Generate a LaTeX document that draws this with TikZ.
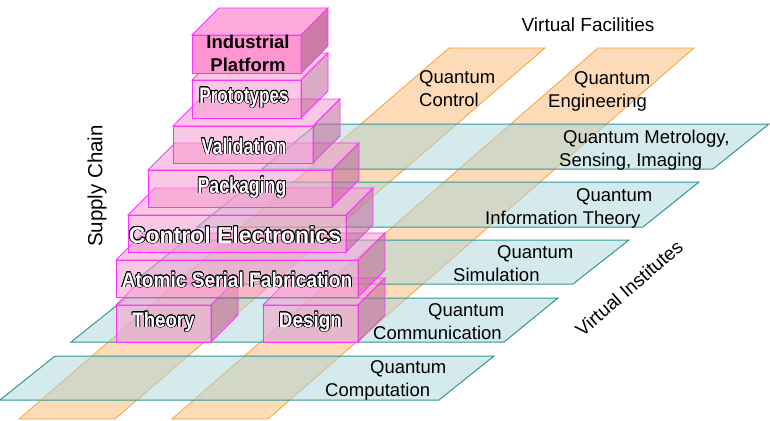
\documentclass[tikz,border=0pt]{standalone}
\usepackage{fontspec}
\setmainfont{Liberation Sans}
\usepackage{graphicx}
\usepackage{contour}
\contourlength{0.85pt}

\definecolor{bandorange}{RGB}{253,218,184}
\definecolor{edgeorange}{RGB}{247,163,60}
\definecolor{bandteal}{RGB}{171,213,217}
\definecolor{edgeteal}{RGB}{49,151,149}
\definecolor{boxfill}{RGB}{245,155,208}
\definecolor{boxdark}{RGB}{190,100,150}
\definecolor{boxedge}{RGB}{255,51,255}
\definecolor{topfront}{RGB}{255,150,210}
\definecolor{toptop}{RGB}{255,170,220}
\definecolor{topside}{RGB}{204,122,166}

\begin{document}
\begin{tikzpicture}[x=1pt,y=-1pt]

    \tikzset{orangeband/.style = {fill=bandorange,draw=edgeorange,line width=0.8pt}}
    \tikzset{tealband/.style = {fill=bandteal,fill opacity=0.5,draw=edgeteal,line width=1pt}}
    \tikzset{boxfront/.style = {fill=boxfill,fill opacity=0.55,draw=boxedge,line width=0.9pt}}
    \tikzset{boxside/.style = {fill=boxdark,fill opacity=0.55,draw=boxedge,line width=0.9pt}}
    \tikzset{lbl/.style = {font=\fontsize{18.5}{23}\selectfont,inner sep=0pt,align=left,anchor=north west}}
    \tikzset{boxlbl/.style = {inner sep=0pt,anchor=base,text=white}}

    \useasboundingbox (0,0) rectangle (770,420);

    % virtual facilities
    \draw[orangeband] (19,419) -- (115,419) -- (545,48) -- (449,48) -- cycle;
    \draw[orangeband] (172,419) -- (268,419) -- (694,48) -- (598,48) -- cycle;

    % virtual institutes
    \draw[tealband] (0,400) -- (439,400) -- (494,356) -- (55,356) -- cycle;
    \draw[tealband] (71,342) -- (504,342) -- (558,298) -- (126,298) -- cycle;
    \draw[tealband] (131,284) -- (573,284) -- (629,240) -- (186,240) -- cycle;
    \draw[tealband] (197,227) -- (643,227) -- (699,182) -- (253,182) -- cycle;
    \draw[tealband] (262,169) -- (713,169) -- (769,124) -- (317,124) -- cycle;

    % supply chain boxes
    \foreach \xa/\xb/\ya/\yb in {116/211/305/342, 263/358/305/342, 116/358/260/297,
                                  128/346/215/252, 148/332/170/207, 173/313/126/163,
                                  192/301/80/118}{
        \draw[boxfront] (\xa,\ya) rectangle (\xb,\yb);
        \draw[boxfront] (\xa,\ya) -- ++(27,-27) -- (\xb+27,\ya-27) -- (\xb,\ya) -- cycle;
        \draw[boxside] (\xb,\ya) -- ++(27,-27) -- ++(0,\yb-\ya) -- (\xb,\yb) -- cycle;
    }
    \draw[fill=topfront,draw=boxedge,line width=0.9pt] (192,35) rectangle (301,73);
    \draw[fill=toptop,draw=boxedge,line width=0.9pt] (192,35) -- (219,8) -- (328,8) -- (301,35) -- cycle;
    \draw[fill=topside,draw=boxedge,line width=0.9pt] (301,35) -- (328,8) -- (328,46) -- (301,73) -- cycle;

    \node[boxlbl,font=\bfseries\fontsize{21}{21}\selectfont] (theory) at (163.5,327) {\scalebox{0.89}[1]{\contour{black}{Theory}}};
    \node[boxlbl,font=\bfseries\fontsize{21}{21}\selectfont] (design) at (310.5,327) {\scalebox{0.9}[1]{\contour{black}{Design}}};
    \node[boxlbl,font=\bfseries\fontsize{21}{21}\selectfont] (atomic) at (237,287) {\scalebox{0.91}[1]{\contour{black}{Atomic Serial Fabrication}}};
    \node[boxlbl,font=\bfseries\fontsize{23}{23}\selectfont] (control) at (235,243) {\contour{black}{Control Electronics}};
    \node[boxlbl,font=\bfseries\fontsize{22.5}{22.5}\selectfont] (packaging) at (242,193) {\scalebox{0.79}[1]{\contour{black}{Packaging}}};
    \node[boxlbl,font=\bfseries\fontsize{22.5}{22.5}\selectfont] (validation) at (244,154) {\scalebox{0.8}[1]{\contour{black}{Validation}}};
    \node[boxlbl,font=\bfseries\fontsize{22.5}{22.5}\selectfont] (prototypes) at (244,103) {\scalebox{0.76}[1]{\contour{black}{Prototypes}}};
    \node[font=\bfseries\fontsize{18.5}{23}\selectfont,align=center,inner sep=0pt,anchor=north] (industrial) at (248,35) {Industrial\\Platform};

    \node[lbl] (qcontrol) at (419,70) {Quantum\\Control};
    \node[lbl] (qengineering) at (548,71) {\hspace*{26pt}Quantum\\Engineering};
    \node[lbl] (qmetrology) at (559,130) {\hspace*{4pt}Quantum Metrology,\\Sensing, Imaging};
    \node[lbl] (qinformation) at (485,188) {\hspace*{91pt}Quantum\\Information Theory};
    \node[lbl] (qsimulation) at (453,245) {\hspace*{44pt}Quantum\\Simulation};
    \node[lbl] (qcommunication) at (373,303) {\hspace*{55pt}Quantum\\Communication};
    \node[lbl] (qcomputation) at (325,360) {\hspace*{45pt}Quantum\\Computation};

    \node[font=\fontsize{19}{19}\selectfont,anchor=base,inner sep=0pt] (facilities) at (588,32) {Virtual Facilities};
    \node[font=\fontsize{19}{19}\selectfont,rotate=41,inner sep=0pt] (institutes) at (629,288) {Virtual Institutes};
    \node[font=\fontsize{20.5}{20.5}\selectfont,rotate=90,inner sep=0pt] (supply) at (97,186) {Supply Chain};

\end{tikzpicture}
\end{document}
